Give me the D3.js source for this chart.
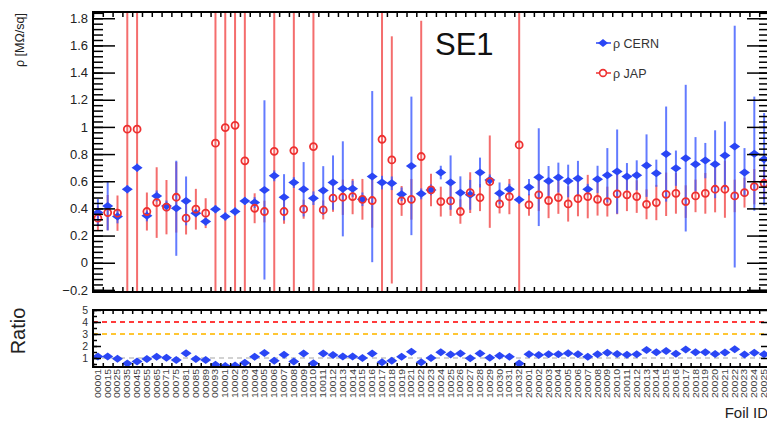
<!DOCTYPE html>
<html>
<head>
<meta charset="utf-8">
<script src="https://cdn.jsdelivr.net/npm/d3@7"></script>
<style>
  body { margin: 0; background: #fff; }
  svg { display: block; font-family: "Liberation Sans", Arial, sans-serif; }
</style>
</head>
<body>
<svg id="chart" width="767" height="421"></svg>
<script>
// foil ids on the x axis
const foilIds = [
  "00001","00015","00025","00035","00045","00055","00065","00071","00075","00081","00085","00089","00093",
  "10001","10002","10003","10004","10005","10006","10007","10008","10009","10010","10011","10012","10013",
  "10014","10015","10016","10017","10018","10019","10021","10022","10023","10024","10025","10026","10027",
  "10028","10029","10030","10031","10032",
  "20001","20002","20003","20004","20005","20006","20007","20008","20009","20010","20011","20012","20013",
  "20014","20015","20016","20017","20018","20019","20020","20021","20022","20023","20024","20025"
];

// rho CERN
const cern = [
  0.369,0.418,0.340,0.541,0.700,0.345,0.492,0.418,0.401,0.455,0.365,0.303,0.394,
  0.340,0.377,0.455,0.443,0.536,0.640,0.482,0.590,0.541,0.475,0.531,0.590,0.544,
  0.544,0.467,0.634,0.590,0.585,0.504,0.713,0.507,0.536,0.664,0.590,0.516,0.500,
  0.664,0.610,0.511,0.541,0.463,
  0.556,0.630,0.602,0.627,0.602,0.620,0.541,0.614,0.644,0.671,0.634,0.644,0.715,
  0.659,0.800,0.696,0.770,0.725,0.752,0.725,0.790,0.855,0.664,0.803,0.762
];
const cernErr = [
  0.10,0.18,0.05,0.03,0.03,0.04,0.04,0.04,0.35,0.18,0.03,0.03,0.03,
  0.03,0.03,0.03,0.04,0.66,0.04,0.17,0.04,0.20,0.05,0.18,0.20,0.35,
  0.06,0.05,0.63,0.05,0.05,0.05,0.51,0.04,0.04,0.05,0.20,0.12,0.11,
  0.11,0.04,0.08,0.04,0.03,
  0.06,0.36,0.11,0.11,0.12,0.13,0.04,0.10,0.20,0.31,0.10,0.11,0.23,
  0.10,0.35,0.13,0.54,0.20,0.13,0.25,0.25,0.89,0.18,0.42,0.34
];

// rho JAP
const jap = [
  0.328,0.369,0.365,0.983,0.983,0.377,0.443,0.409,0.482,0.328,0.394,0.365,0.880,
  0.995,1.012,0.750,0.401,0.377,0.820,0.377,0.826,0.394,0.855,0.389,0.475,0.482,
  0.487,0.467,0.458,0.909,0.757,0.455,0.467,0.782,0.536,0.450,0.455,0.377,0.516,
  0.480,0.597,0.433,0.487,0.867,
  0.426,0.500,0.458,0.480,0.433,0.472,0.487,0.467,0.450,0.507,0.500,0.487,0.430,
  0.443,0.504,0.511,0.450,0.492,0.511,0.541,0.541,0.492,0.516,0.560,0.585
];
const japErr = [
  0.09,0.13,0.13,5.00,5.00,0.14,0.26,0.20,0.26,0.12,0.15,0.11,5.00,
  5.00,5.00,5.00,0.11,0.08,5.00,0.09,5.00,0.07,5.00,0.07,0.10,0.13,
  0.13,0.15,0.20,5.00,0.91,0.11,0.15,1.00,0.12,0.11,0.11,0.09,0.15,
  0.10,0.34,0.07,0.13,5.00,
  0.08,0.12,0.13,0.12,0.13,0.13,0.16,0.12,0.11,0.15,0.12,0.12,0.11,
  0.13,0.16,0.15,0.12,0.12,0.15,0.17,0.21,0.12,0.11,0.13,0.12
];

const yTicks = [-0.2,0,0.2,0.4,0.6,0.8,1,1.2,1.4,1.6,1.8];
const ratioTicks = [1,2,3,4,5];
const ratioLines = [1,3,4];

const svg = d3.select("#chart");
const n = foilIds.length;
const left = 93, right = 769;
const main = {top: 12, bottom: 292};
const rat = {top: 310, bottom: 367};

const x = d3.scaleBand().domain(foilIds).range([left, right]);
const xEdge = d3.scaleLinear().domain([0, n]).range([left, right]);
const y = d3.scaleLinear().domain([-0.2155, 1.846]).range([main.bottom, main.top]);
const yr = d3.scaleLinear().domain([0.25, 5]).range([rat.bottom, rat.top]);

const blue = "#2a46f5", blueErr = "rgba(60,90,255,0.8)";
const red = "#ee3030", redErr = "rgba(240,60,60,0.75)";

const diamond = (w, h) => `M0,${-h}L${w},0L0,${h}L${-w},0Z`;

svg.append("clipPath").attr("id", "clipMain")
  .append("rect").attr("x", left).attr("y", main.top)
  .attr("width", right - left).attr("height", main.bottom - main.top);
svg.append("clipPath").attr("id", "clipRat")
  .append("rect").attr("x", left).attr("y", rat.top)
  .attr("width", right - left).attr("height", rat.bottom - rat.top);

// ---------- main pad ----------
const data = foilIds.map((id, i) => ({id, c: cern[i], ce: cernErr[i], j: jap[i], je: japErr[i]}));
const gm = svg.append("g").attr("clip-path", "url(#clipMain)");
const cx = d => x(d.id) + x.bandwidth() / 2;

gm.selectAll(".jerr").data(data).enter().append("line")
  .attr("x1", cx).attr("x2", cx)
  .attr("y1", d => y(d.j - d.je)).attr("y2", d => y(d.j + d.je))
  .attr("stroke", redErr).attr("stroke-width", 2);
gm.selectAll(".cerr").data(data).enter().append("line")
  .attr("x1", cx).attr("x2", cx)
  .attr("y1", d => y(d.c - d.ce)).attr("y2", d => y(d.c + d.ce))
  .attr("stroke", blueErr).attr("stroke-width", 2);
gm.selectAll(".cpt").data(data).enter().append("path")
  .attr("d", diamond(5.5, 4))
  .attr("transform", d => `translate(${cx(d)},${y(d.c)})`)
  .attr("fill", blue);
gm.selectAll(".jpt").data(data).enter().append("circle")
  .attr("cx", cx).attr("cy", d => y(d.j)).attr("r", 3.5)
  .attr("fill", "none").attr("stroke", red).attr("stroke-width", 1.8);

// axes main
const minorY = d3.range(-0.2, 1.841, 0.04);
svg.append("g").attr("transform", `translate(${left},0)`)
  .call(d3.axisLeft(y).tickValues(minorY).tickSize(-10).tickFormat(""))
  .call(g => g.select(".domain").remove());
svg.append("g").attr("transform", `translate(${left},0)`)
  .call(d3.axisLeft(y).tickValues(yTicks).tickSize(-22).tickPadding(5).tickFormat(d3.format("~g")))
  .call(g => g.select(".domain").remove())
  .call(g => g.selectAll("text").attr("font-size", 13).attr("fill", "#222")
    .attr("font-family", "Liberation Sans, Arial, sans-serif"));
svg.append("g").attr("transform", `translate(${right},0)`)
  .call(d3.axisRight(y).tickValues(minorY).tickSize(-10).tickFormat(""))
  .call(g => g.select(".domain").remove());
svg.append("g").attr("transform", `translate(${right},0)`)
  .call(d3.axisRight(y).tickValues(yTicks).tickSize(-22).tickFormat(""))
  .call(g => g.select(".domain").remove());
svg.append("g").attr("transform", `translate(0,${main.top})`)
  .call(d3.axisTop(xEdge).tickValues(d3.range(n + 1)).tickSize(-5).tickFormat(""))
  .call(g => g.select(".domain").remove());
svg.append("g").attr("transform", `translate(0,${main.bottom})`)
  .call(d3.axisBottom(xEdge).tickValues(d3.range(n + 1)).tickSize(-5).tickFormat(""))
  .call(g => g.select(".domain").remove());
svg.selectAll(".tick line").attr("stroke", "#000").attr("stroke-width", 1.5);

svg.append("rect").attr("x", left).attr("y", main.top)
  .attr("width", right - left).attr("height", main.bottom - main.top)
  .attr("fill", "none").attr("stroke", "#000").attr("stroke-width", 2);

svg.append("text").attr("x", 435).attr("y", 55)
  .attr("font-size", 31).attr("fill", "#111").text("SE1");

svg.append("text").attr("transform", "translate(24,13) rotate(-90)")
  .attr("text-anchor", "end").attr("font-size", 12.5).attr("fill", "#222")
  .text("ρ [MΩ/sq]");

// legend
const legend = [{label: "ρ CERN", y: 43, kind: "c"}, {label: "ρ JAP", y: 73, kind: "j"}];
const lg = svg.append("g");
legend.forEach(l => {
  lg.append("line").attr("x1", 596).attr("x2", 611).attr("y1", l.y).attr("y2", l.y)
    .attr("stroke", l.kind === "c" ? blue : red).attr("stroke-width", 1.5);
  if (l.kind === "c") {
    lg.append("path").attr("d", diamond(5, 4)).attr("transform", `translate(603,${l.y})`).attr("fill", blue);
  } else {
    lg.append("circle").attr("cx", 603).attr("cy", l.y).attr("r", 3.4)
      .attr("fill", "#fff").attr("stroke", red).attr("stroke-width", 1.6);
  }
  lg.append("text").attr("x", 613).attr("y", l.y).attr("dy", "0.36em")
    .attr("font-size", 12.5).attr("fill", "#333").text(l.label);
});

// ---------- ratio pad ----------
const gr = svg.append("g").attr("clip-path", "url(#clipRat)");
const lineColors = {1: "#c4c4c4", 3: "#ffc633", 4: "#ff3b3b"};
gr.selectAll(".ref").data(ratioLines).enter().append("line")
  .attr("x1", left).attr("x2", right)
  .attr("y1", d => yr(d)).attr("y2", d => yr(d))
  .attr("stroke", d => lineColors[d]).attr("stroke-width", d => d === 1 ? 1.6 : 2.2)
  .attr("stroke-dasharray", "5,4");
gr.selectAll(".rpt").data(data).enter().append("path")
  .attr("d", diamond(5.5, 4))
  .attr("transform", d => `translate(${cx(d)},${yr(d.c / d.j)})`)
  .attr("fill", blue);

svg.append("g").attr("transform", `translate(${left},0)`)
  .call(d3.axisLeft(yr).tickValues(d3.range(0.5, 5.01, 0.5)).tickSize(-4).tickFormat(""))
  .call(g => g.select(".domain").remove());
svg.append("g").attr("transform", `translate(${left},0)`)
  .call(d3.axisLeft(yr).tickValues(ratioTicks).tickSize(-8).tickPadding(5).tickFormat(d3.format("d")))
  .call(g => g.select(".domain").remove())
  .call(g => g.selectAll("text").attr("font-size", 10.5).attr("fill", "#333")
    .attr("font-family", "Liberation Sans, Arial, sans-serif"));
svg.append("g").attr("transform", `translate(${right},0)`)
  .call(d3.axisRight(yr).tickValues(ratioTicks).tickSize(-8).tickFormat(""))
  .call(g => g.select(".domain").remove());
svg.append("g").attr("transform", `translate(0,${rat.top})`)
  .call(d3.axisTop(xEdge).tickValues(d3.range(n + 1)).tickSize(-4).tickFormat(""))
  .call(g => g.select(".domain").remove());
svg.append("g").attr("transform", `translate(0,${rat.bottom})`)
  .call(d3.axisBottom(xEdge).tickValues(d3.range(n + 1)).tickSize(-4).tickFormat(""))
  .call(g => g.select(".domain").remove());
svg.selectAll(".tick line").attr("stroke", "#000").attr("stroke-width", 1.5);

svg.append("rect").attr("x", left).attr("y", rat.top)
  .attr("width", right - left).attr("height", rat.bottom - rat.top)
  .attr("fill", "none").attr("stroke", "#000").attr("stroke-width", 2);

// foil id labels
svg.append("g").attr("transform", `translate(0,${rat.bottom + 2})`)
  .call(d3.axisBottom(x).tickSize(0).tickPadding(0))
  .call(g => g.select(".domain").remove())
  .call(g => g.selectAll("text")
    .attr("transform", "rotate(-90)")
    .attr("text-anchor", "end").attr("x", 0).attr("y", 0).attr("dy", "0.35em")
    .attr("font-size", 8.5).attr("fill", "#444")
    .attr("textLength", 29).attr("lengthAdjust", "spacingAndGlyphs")
    .attr("font-family", "Liberation Sans, Arial, sans-serif"));

svg.append("text").attr("transform", "translate(25,331) rotate(-90)")
  .attr("text-anchor", "middle").attr("font-size", 20).attr("fill", "#222").text("Ratio");

svg.append("text").attr("x", 768).attr("y", 418)
  .attr("text-anchor", "end").attr("font-size", 15).attr("fill", "#222").text("Foil ID");
</script>
</body>
</html>
